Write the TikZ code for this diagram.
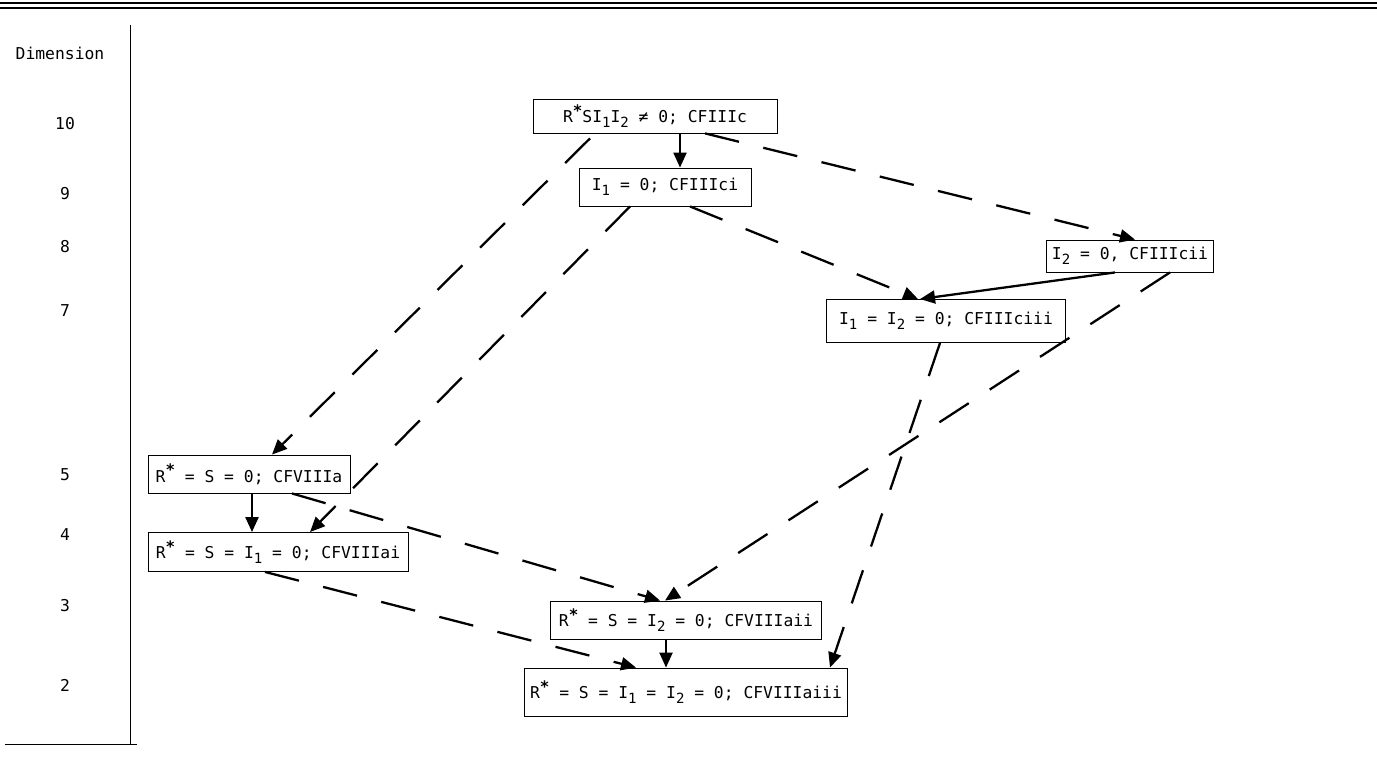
\documentclass[tikz,border=0pt]{standalone}
\usepackage{fontspec}
\setmonofont{DejaVu Sans Mono}
\usetikzlibrary{arrows.meta}
\newcommand{\lowidx}[1]{\raisebox{-0.55ex}{\fontsize{8}{9}\selectfont #1}}
\newcommand{\rstar}{R\raisebox{0.75ex}{\fontsize{9}{9}\selectfont\bfseries *}}
\tikzset{
  box/.style={draw,line width=0.5pt,inner sep=3pt,font=\ttfamily\fontsize{9.3}{11}\selectfont},
  lbl/.style={font=\ttfamily\fontsize{9.3}{11}\selectfont},
  solidarr/.style={line width=1.3pt,-{Triangle[length=3mm,width=2.6mm]}},
  dasharr/.style={line width=1.3pt,dash pattern=on 0.7cm off 0.5cm,-{Triangle[length=3mm,width=2.6mm]}}
}
\begin{document}
\begin{tikzpicture}
\useasboundingbox (0,0) rectangle (27.54,15.58);
\draw[line width=1pt] (0,15.52) -- (27.54,15.52);
\draw[line width=1pt] (0,15.42) -- (27.54,15.42);
\draw[line width=0.5pt] (2.6,15.08) -- (2.6,0.70);
\draw[line width=0.5pt] (0.1,0.70) -- (2.74,0.70);
\node[lbl] (dim) at (1.2,14.52) {Dimension};
\node[lbl] (d10) at (1.3,13.10) {10};
\node[lbl] (d9) at (1.3,11.70) {9};
\node[lbl] (d8) at (1.3,10.64) {8};
\node[lbl] (d7) at (1.3,9.36) {7};
\node[lbl] (d5) at (1.3,6.08) {5};
\node[lbl] (d4) at (1.3,4.88) {4};
\node[lbl] (d3) at (1.3,3.46) {3};
\node[lbl] (d2) at (1.3,1.88) {2};
\node[box,minimum width=4.88cm,minimum height=0.54cm] (A) at (13.1,13.26) {\rstar SI\lowidx{1}I\lowidx{2} ≠ 0; CFIIIc};
\node[box,minimum width=3.44cm,minimum height=0.76cm] (B) at (13.3,11.84) {I\lowidx{1} = 0; CFIIIci};
\node[box,minimum width=3.28cm,minimum height=0.64cm] (C) at (22.6,10.46) {I\lowidx{2} = 0, CFIIIcii};
\node[box,minimum width=4.78cm,minimum height=0.86cm] (D) at (18.92,9.16) {I\lowidx{1} = I\lowidx{2} = 0; CFIIIciii};
\node[box,minimum width=4.04cm,minimum height=0.76cm] (E) at (4.98,6.10) {\rstar{} = S = 0; CFVIIIa};
\node[box,minimum width=5.2cm,minimum height=0.78cm] (F) at (5.56,4.54) {\rstar{} = S = I\lowidx{1} = 0; CFVIIIai};
\node[box,minimum width=5.42cm,minimum height=0.76cm] (G) at (13.72,3.18) {\rstar{} = S = I\lowidx{2} = 0; CFVIIIaii};
\node[box,minimum width=6.46cm,minimum height=0.96cm] (H) at (13.72,1.74) {\rstar{} = S = I\lowidx{1} = I\lowidx{2} = 0; CFVIIIaiii};
\draw[solidarr] ([xshift=0.5cm]A.south) -- ([xshift=0.3cm]B.north);
\draw[dasharr] ([xshift=1.0cm]A.south) -- ([xshift=0.1cm]C.north);
\draw[dasharr] ([xshift=-1.3cm,yshift=-0.1cm]A.south) -- ([xshift=0.46cm]E.north);
\draw[dasharr] ([xshift=0.5cm]B.south) -- ([xshift=-0.56cm]D.north);
\draw[dasharr] ([xshift=-0.7cm]B.south) -- ([xshift=0.64cm]F.north);
\draw[solidarr] ([xshift=-0.3cm]C.south) -- ([xshift=-0.52cm]D.north);
\draw[dasharr] ([xshift=0.8cm]C.south) -- ([xshift=-0.42cm]G.north);
\draw[dasharr] ([xshift=-0.12cm]D.south) -- ([xshift=2.88cm]H.north);
\draw[solidarr] ([xshift=0.06cm]E.south) -- ([xshift=-0.52cm]F.north);
\draw[dasharr] ([xshift=0.86cm]E.south) -- ([xshift=-0.52cm]G.north);
\draw[dasharr] ([xshift=-0.26cm]F.south) -- ([xshift=-1.0cm]H.north);
\draw[solidarr] ([xshift=-0.4cm]G.south) -- ([xshift=-0.4cm]H.north);
\end{tikzpicture}
\end{document}
